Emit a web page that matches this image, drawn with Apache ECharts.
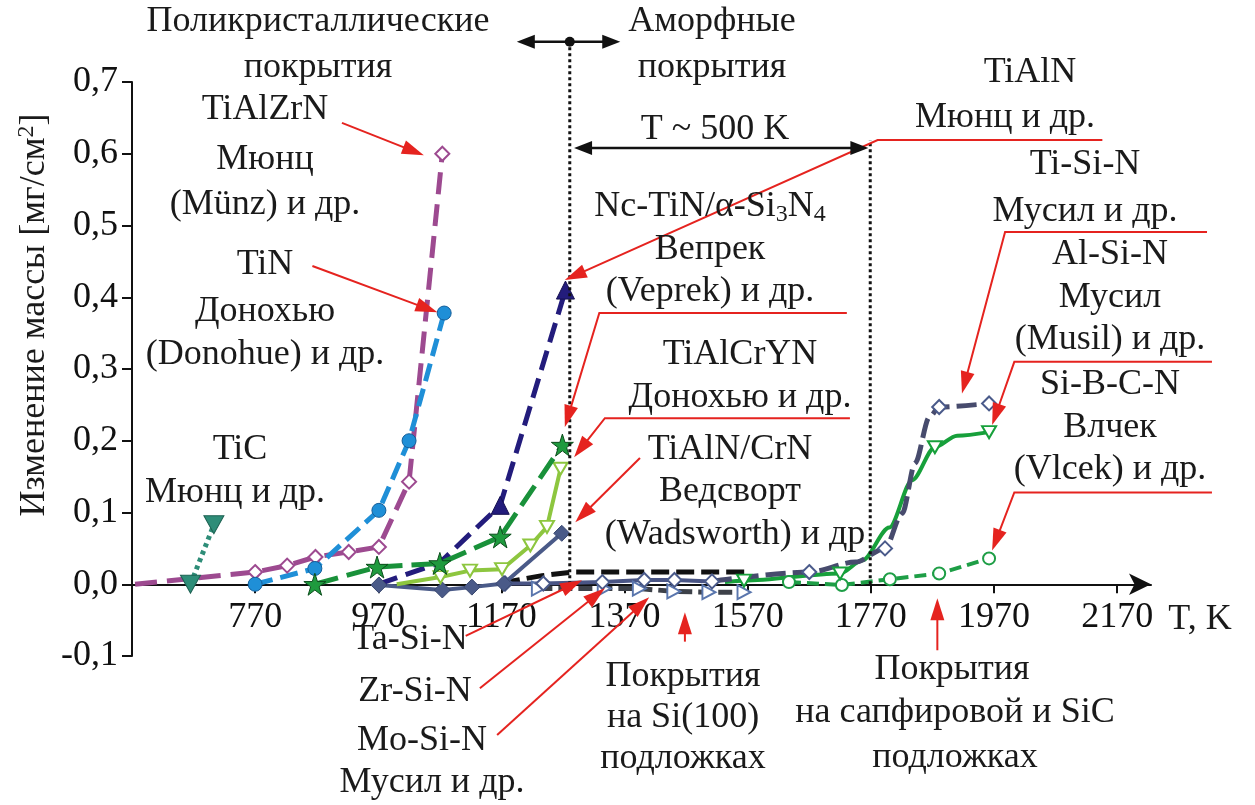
<!DOCTYPE html>
<html>
<head>
<meta charset="utf-8">
<script src="https://cdn.jsdelivr.net/npm/echarts@6/dist/echarts.min.js"></script>
<style>
  html, body { margin: 0; padding: 0; background: #fff; }
  #c { width: 1255px; height: 805px; }
</style>
</head>
<body>
<div id="c"></div>
<script>
// Axis ticks
const xTickValues = [770, 970, 1170, 1370, 1570, 1770, 1970, 2170];
const yMin = -0.1, yMax = 0.7, yStep = 0.1;

// Oxidation data: [T, K ; mass gain, mg/cm2]
const tiAlZrN  = [[575, 0.0], [770, 0.017], [822, 0.026], [868, 0.038], [922, 0.045], [971, 0.052], [1020, 0.143], [1074, 0.600]];
const tiN      = [[770, 0.0], [867, 0.022], [971, 0.103], [1020, 0.200], [1077, 0.378]];
const tiC      = [[665, 0.0], [703, 0.083]];
const tiAlN    = [[970, 0.0], [1070, 0.030], [1168, 0.110], [1274, 0.410]];
const ncTiN    = [[867, 0.0], [968, 0.024], [1070, 0.029], [1168, 0.066], [1269, 0.194]];
const tiAlCrYN = [[1000, 0.0], [1071, 0.010], [1119, 0.019], [1171, 0.021], [1217, 0.054], [1244, 0.080], [1266, 0.161]];
const tiAlNCrN = [[971, -0.001], [1074, -0.008], [1122, -0.004], [1174, 0.001], [1268, 0.071]];
const taSiN    = [[1171, 0.002], [1236, 0.012], [1285, 0.017], [1572, 0.017]];
const zrSiN    = [[1176, 0.001], [1238, 0.001], [1334, 0.003], [1402, 0.006], [1451, 0.006], [1512, 0.004]];
const moSiN    = [[1230, -0.006], [1337, -0.006], [1394, -0.006], [1450, -0.010], [1507, -0.011], [1564, -0.011]];
const tiSiN    = [[1512, 0.004], [1670, 0.017], [1745, 0.031], [1793, 0.050], [1821, 0.099], [1842, 0.169], [1865, 0.233], [1881, 0.247], [1962, 0.252]];
const alSiN    = [[1533, 0.003], [1564, 0.005], [1720, 0.015], [1756, 0.033], [1800, 0.079], [1837, 0.145], [1874, 0.191], [1910, 0.207], [1962, 0.212]];
const siBCN    = [[1637, 0.003], [1723, -0.001], [1801, 0.007], [1881, 0.015], [1962, 0.036]];

const FONT = '"Liberation Serif", "Times New Roman", serif';
const FS = 36;
const RED = '#e5231f';

const STAR = 'path://M12,0 L14.8,8.6 L24,8.6 L16.6,14 L19.4,22.8 L12,17.4 L4.6,22.8 L7.4,14 L0,8.6 L9.2,8.6 Z';
const TRI_DOWN = 'path://M0,0 L12,0 L6,11 Z';
const TRI_RIGHT = 'path://M0,0 L11,6 L0,12 Z';

function line(name, data, o) {
  const bare = new Set(o.bare || []);
  return {
    name: name,
    type: 'line',
    data: data.map((d, i) => bare.has(i) ? { value: d, symbol: 'none' } : d),
    symbol: o.symbol || 'none',
    symbolSize: o.size || 12,
    smooth: o.smooth || false,
    smoothMonotone: 'x',
    showAllSymbol: true,
    lineStyle: { color: o.color, width: o.width || 4, type: o.dash || 'solid', cap: 'butt' },
    itemStyle: { color: o.fill || o.color, borderColor: o.border || o.color, borderWidth: o.bw || 1.5 },
    z: o.z || 2,
    silent: true
  };
}

const series = [
  line('Mo-Si-N', moSiN, { color: '#3d4149', dash: [14, 6], width: 5, symbol: TRI_RIGHT, size: [13, 14], fill: '#fff', border: '#5a76ad', bw: 2 }),
  line('Ta-Si-N', taSiN, { color: '#111', dash: [18, 7], width: 5 }),
  line('Zr-Si-N', zrSiN, { color: '#4a5585', width: 4, symbol: 'diamond', size: 14, fill: '#fff', border: '#4a5a8a', bw: 2 }),
  line('Si-B-C-N', siBCN, { color: '#1e9e46', dash: [12, 6], width: 4, symbol: 'circle', size: 12, fill: '#fff', border: '#1e9e46', bw: 2 }),
  line('Al-Si-N', alSiN, { color: '#17a03b', width: 4, smooth: 0.3, symbol: TRI_DOWN, size: [14, 12], fill: '#fff', border: '#17a03b', bw: 2, bare: [0, 3, 4, 5, 7] }),
  line('Ti-Si-N', tiSiN, { color: '#474b6d', dash: [20, 7], width: 5, smooth: 0.3, symbol: 'diamond', size: 14, fill: '#fff', border: '#4a5a8a', bw: 2, bare: [0, 2, 4, 5, 6] }),
  line('TiAlZrN', tiAlZrN, { color: '#9d4a90', dash: [22, 10], width: 5, symbol: 'diamond', size: 14, fill: '#fff', border: '#9d4a90', bw: 2, bare: [0] }),
  line('TiC', tiC, { color: '#2e8d78', dash: [4, 4], width: 5, symbol: TRI_DOWN, size: [20, 18], fill: '#2e8d78', border: '#1d6152', bw: 1 }),
  line('TiN', tiN, { color: '#1f8fd7', dash: [18, 8], width: 5, symbol: 'circle', size: 14, fill: '#1f8fd7', border: '#155f9a', bw: 1 }),
  line('TiAlN/CrN', tiAlNCrN, { color: '#4a5a88', width: 4, symbol: 'diamond', size: 16, fill: '#4a5a88', border: '#3a4870', bw: 1 }),
  line('TiAlCrYN', tiAlCrYN, { color: '#8dc63f', width: 4, symbol: TRI_DOWN, size: [14, 12], fill: '#fff', border: '#8dc63f', bw: 2, bare: [0] }),
  line('TiAlN', tiAlN, { color: '#231c7c', dash: [20, 9], width: 5, symbol: 'triangle', size: 18, fill: '#231c7c', border: '#15104f', bw: 1, bare: [0, 1] }),
  line('Nc-TiN/α-Si3N4', ncTiN, { color: '#19913a', dash: [24, 9], width: 5, symbol: STAR, size: 22, fill: '#1f9a3e', border: '#0c4d1c', bw: 1, z: 3 })
];

const GRID = { left: 132, right: 104, top: 82, bottom: 149 };
const plotH = 805 - GRID.top - GRID.bottom;
// the horizontal axis runs along zero mass change
const zeroOffset = -plotH * (0 - yMin) / (yMax - yMin);

// arrows (data coordinates, last point is the tip)
const redArrows = [
  [[911, 0.643], [1044, 0.598]],                          // TiAlZrN
  [[863, 0.4435], [1066, 0.379]],                         // TiN
  [[2146, 0.619], [1781, 0.619], [1273, 0.424]],          // TiAlN
  [[1731, 0.378], [1329, 0.378], [1273, 0.219]],          // Nc-TiN/α-Si3N4
  [[1736, 0.2315], [1338, 0.2315], [1288, 0.177]],        // TiAlCrYN
  [[1395, 0.176], [1290, 0.0865]],                        // TiAlN/CrN
  [[2316, 0.491], [1988, 0.491], [1918, 0.266]],          // Ti-Si-N
  [[2324, 0.310], [2003, 0.310], [1967, 0.222]],          // Al-Si-N
  [[2324, 0.128], [2003, 0.128], [1967, 0.047]],          // Si-B-C-N
  [[1112, -0.072], [1301, 0.0056]],                       // Ta-Si-N
  [[1135, -0.145], [1338, -0.0056]],                      // Zr-Si-N
  [[1163, -0.210], [1410, -0.018]],                       // Mo-Si-N
  [[1468, -0.080], [1468, -0.039]],                       // Si(100)
  [[1878, -0.092], [1878, -0.0195]]                       // sapphire / SiC
];

const labels = [
  ['Поликристаллические', 318, 22], ['покрытия', 318, 68],
  ['Аморфные', 712, 22], ['покрытия', 712, 68],
  ['TiAlN', 1030, 73], ['Мюнц и др.', 1005, 118],
  ['T ~ 500 K', 715, 130],
  ['Вепрек', 710, 250], ['(Veprek) и др.', 710, 292],
  ['TiAlCrYN', 740, 355], ['Донохью и др.', 740, 398],
  ['TiAlN/CrN', 730, 450], ['Ведсворт', 730, 492], ['(Wadsworth) и др', 735, 535],
  ['TiAlZrN', 265, 110], ['Мюнц', 265, 160], ['(Münz) и др.', 265, 205],
  ['TiN', 265, 265], ['Донохью', 265, 312], ['(Donohue) и др.', 265, 355],
  ['TiC', 240, 450], ['Мюнц и др.', 235, 493],
  ['Ti-Si-N', 1085, 165], ['Мусил и др.', 1085, 212],
  ['Al-Si-N', 1110, 255], ['Мусил', 1110, 298], ['(Musil) и др.', 1110, 340],
  ['Si-B-C-N', 1110, 385], ['Влчек', 1110, 428], ['(Vlcek) и др.', 1110, 470],
  ['T, K', 1200, 620],
  ['Ta-Si-N', 410, 640], ['Zr-Si-N', 415, 692], ['Mo-Si-N', 422, 741], ['Мусил и др.', 432, 783],
  ['Покрытия', 683, 677], ['на Si(100)', 683, 718], ['подложках', 683, 759],
  ['Покрытия', 952, 670], ['на сапфировой и SiC', 955, 713], ['подложках', 955, 758]
];

const chart = echarts.init(document.getElementById('c'));

function render() {
  chart.clear();
  chart.setOption({
    animation: false,
    backgroundColor: '#fff',
    textStyle: { fontFamily: FONT },
    grid: GRID,
    xAxis: {
      type: 'value', min: 570, max: 2225, offset: zeroOffset,
      axisLine: { onZero: false, lineStyle: { color: '#111', width: 2 }, symbol: ['none', 'arrow'], symbolSize: [16, 22] },
      axisTick: { show: true, length: 9, lineStyle: { color: '#111', width: 2 }, customValues: xTickValues },
      axisLabel: { customValues: xTickValues, color: '#111', fontFamily: FONT, fontSize: FS, margin: 15, formatter: v => String(v) },
      splitLine: { show: false }
    },
    yAxis: {
      type: 'value', min: yMin, max: yMax, interval: yStep,
      axisLine: { show: true, onZero: false, lineStyle: { color: '#111', width: 2 } },
      axisTick: { show: true, length: 10, lineStyle: { color: '#111', width: 2 } },
      axisLabel: { color: '#111', fontFamily: FONT, fontSize: FS, margin: 14, formatter: v => v.toFixed(1).replace('.', ',') },
      splitLine: { show: false }
    },
    series: series
  });

  const P = (t, m) => chart.convertToPixel({ gridIndex: 0 }, [t, m]);

  function head(tip, from, color, L, W) {
    const dx = tip[0] - from[0], dy = tip[1] - from[1];
    const len = Math.hypot(dx, dy) || 1;
    const ux = dx / len, uy = dy / len;
    const bx = tip[0] - ux * L, by = tip[1] - uy * L;
    return {
      type: 'polygon', silent: true, z: 20,
      shape: { points: [tip, [bx - uy * W, by + ux * W], [bx + uy * W, by - ux * W]] },
      style: { fill: color }
    };
  }
  function redArrow(pts) {
    const px = pts.map(p => P(p[0], p[1]));
    const tip = px[px.length - 1], prev = px[px.length - 2];
    const dx = tip[0] - prev[0], dy = tip[1] - prev[1], len = Math.hypot(dx, dy);
    const end = [tip[0] - dx / len * 18, tip[1] - dy / len * 18];
    const linePts = px.slice(0, -1).concat([end]);
    return [
      { type: 'polyline', silent: true, z: 19, shape: { points: linePts }, style: { stroke: RED, lineWidth: 2, fill: null } },
      head(tip, prev, RED, 22, 7)
    ];
  }
  function doubleArrow(a, b, color) {
    const pa = P(a[0], a[1]), pb = P(b[0], b[1]);
    return [
      { type: 'line', silent: true, z: 19, shape: { x1: pa[0] + 14, y1: pa[1], x2: pb[0] - 14, y2: pb[1] }, style: { stroke: color, lineWidth: 2.5 } },
      head(pa, pb, color, 18, 7),
      head(pb, pa, color, 18, 7)
    ];
  }
  function dotted(t, m0, m1) {
    const a = P(t, m0), b = P(t, m1);
    return { type: 'line', silent: true, z: 18, shape: { x1: a[0], y1: a[1], x2: b[0], y2: b[1] }, style: { stroke: '#111', lineWidth: 3, lineDash: [3, 3] } };
  }
  function txt(s, x, y, extra) {
    return {
      type: 'text', silent: true, z: 30, x: x, y: y,
      style: Object.assign({ text: s, fill: '#1a1a1a', fontFamily: FONT, fontSize: FS, align: 'center', verticalAlign: 'middle' }, extra || {})
    };
  }

  const g = [];
  redArrows.forEach(a => g.push(...redArrow(a)));
  g.push(dotted(1281, 0.0, 0.756));
  g.push(dotted(1769, 0.0, 0.619));
  g.push(...doubleArrow([1195, 0.756], [1363, 0.756], '#111'));
  const c = P(1281, 0.756);
  g.push({ type: 'circle', silent: true, z: 21, shape: { cx: c[0], cy: c[1], r: 5 }, style: { fill: '#111' } });
  g.push(...doubleArrow([1288, 0.608], [1766, 0.608], '#111'));

  labels.forEach(l => g.push(txt(l[0], l[1], l[2])));

  // formula with subscripts
  g.push(txt('{a|Nc-TiN/α-Si}{s|3}{a|N}{s|4}', 710, 207, {
    rich: {
      a: { fontFamily: FONT, fontSize: FS, fill: '#1a1a1a' },
      s: { fontFamily: FONT, fontSize: 24, fill: '#1a1a1a', padding: [16, 0, 0, 0] }
    }
  }));
  // y-axis title with superscript
  g.push({
    type: 'text', silent: true, z: 30, x: 35, y: 315, rotation: Math.PI / 2,
    style: {
      text: '{a|Изменение массы [мг/см}{s|2}{a|]}', align: 'center', verticalAlign: 'middle',
      rich: {
        a: { fontFamily: FONT, fontSize: FS, fill: '#1a1a1a' },
        s: { fontFamily: FONT, fontSize: 24, fill: '#1a1a1a', padding: [0, 0, 16, 0] }
      }
    }
  });

  chart.setOption({ graphic: { elements: g } });
}

render();
// redraw once the serif face is ready so every label uses it
if (document.fonts && document.fonts.load) {
  Promise.all([
    document.fonts.load(FS + 'px "Liberation Serif"'),
    document.fonts.load('24px "Liberation Serif"')
  ]).then(render, render);
}
</script>
</body>
</html>
